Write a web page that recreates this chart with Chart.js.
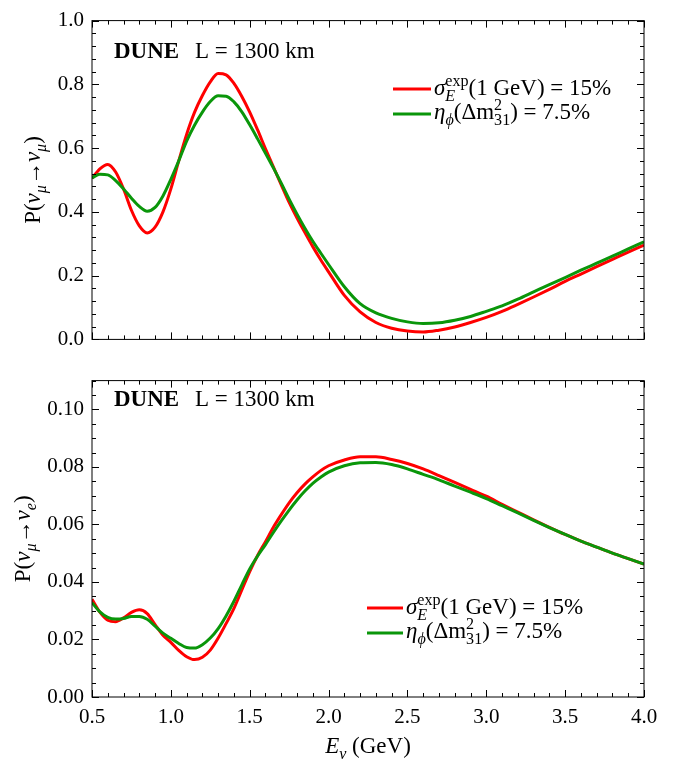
<!DOCTYPE html>
<html>
<head>
<meta charset="utf-8">
<script src="https://cdn.jsdelivr.net/npm/chart.js@4.4.1/dist/chart.umd.min.js"></script>
<style>
  body { margin: 0; background: #fff; }
  canvas { position: absolute; left: 0; }
</style>
</head>
<body>
<canvas id="graph-numu" width="673" height="360" style="top:0"></canvas>
<canvas id="graph-nue" width="673" height="400" style="top:360px"></canvas>
<script>
// neutrino energy (GeV)
const energy = [
  0.50, 0.55, 0.60, 0.65, 0.70, 0.75, 0.80, 0.85, 0.90, 0.95,
  1.00, 1.05, 1.10, 1.15, 1.20, 1.25, 1.30, 1.35, 1.40, 1.45,
  1.50, 1.55, 1.60, 1.65, 1.70, 1.75, 1.80, 1.85, 1.90, 1.95,
  2.00, 2.1, 2.2, 2.3, 2.4, 2.5, 2.6, 2.7, 2.8, 2.9,
  3.0, 3.1, 3.2, 3.3, 3.4, 3.5, 3.6, 3.7, 3.8, 3.9, 4.0
];

// P(numu -> numu)
const numuSigma = [
  0.505, 0.535, 0.549, 0.525, 0.472, 0.405, 0.356, 0.334, 0.352, 0.400,
  0.472, 0.560, 0.643, 0.712, 0.765, 0.808, 0.834, 0.830, 0.803, 0.762,
  0.713, 0.657, 0.598, 0.541, 0.485, 0.430, 0.381, 0.335, 0.291, 0.250,
  0.212, 0.138, 0.086, 0.053, 0.035, 0.026, 0.023, 0.029, 0.039, 0.053,
  0.069, 0.088, 0.110, 0.133, 0.157, 0.182, 0.205, 0.228, 0.251, 0.274, 0.296
];
const numuEta = [
  0.507, 0.518, 0.516, 0.498, 0.472, 0.443, 0.417, 0.402, 0.414, 0.450,
  0.502, 0.560, 0.622, 0.672, 0.713, 0.746, 0.764, 0.763, 0.745, 0.714,
  0.673, 0.629, 0.584, 0.538, 0.490, 0.440, 0.393, 0.349, 0.308, 0.271,
  0.235, 0.165, 0.112, 0.083, 0.066, 0.055, 0.050, 0.052, 0.060, 0.072,
  0.088, 0.105, 0.126, 0.149, 0.172, 0.194, 0.217, 0.239, 0.261, 0.284, 0.306
];

// P(numu -> nue)
const nueSigma = [
  0.0340, 0.0295, 0.0267, 0.0262, 0.0275, 0.0294, 0.0303, 0.0290, 0.0252, 0.0215,
  0.0190, 0.0162, 0.0140, 0.0130, 0.0138, 0.0163, 0.0205, 0.0255, 0.0308, 0.0372,
  0.0436, 0.0492, 0.0540, 0.0590, 0.0634, 0.0675, 0.0710, 0.0740, 0.0765, 0.0787,
  0.0804, 0.0824, 0.0835, 0.0835, 0.0826, 0.0812, 0.0793, 0.0770, 0.0746, 0.0722,
  0.0698, 0.0670, 0.0643, 0.0616, 0.0590, 0.0565, 0.0542, 0.0521, 0.0500, 0.0481, 0.0462
];
const nueEta = [
  0.0328, 0.0296, 0.0277, 0.0271, 0.0273, 0.0280, 0.0280, 0.0270, 0.0246, 0.0222,
  0.0204, 0.0186, 0.0172, 0.0170, 0.0182, 0.0205, 0.0238, 0.0282, 0.0333, 0.0390,
  0.0445, 0.0490, 0.0530, 0.0572, 0.0612, 0.0650, 0.0685, 0.0716, 0.0743, 0.0764,
  0.0782, 0.0804, 0.0814, 0.0815, 0.0808, 0.0793, 0.0774, 0.0755, 0.0733, 0.0712,
  0.0690, 0.0665, 0.0640, 0.0614, 0.0589, 0.0565, 0.0542, 0.0521, 0.0500, 0.0481, 0.0462
];

const RED = "#ff0000";
const GREEN = "#0a960a";
const FONT = '"Liberation Serif", "Times New Roman", serif';
const TXT = 23;   // labels, legend, axis titles
const TICK = 21;  // tick numbers

// rich text (sub/superscripts) drawn straight on the canvas
const legendSigma = [{ t: "σ", i: 1 }, { sub: "E", subI: 1, sup: "exp" }, { t: "(1 GeV) = 15%" }];
const legendEta = [{ t: "η", i: 1 }, { sub: "ϕ", subI: 1 }, { t: "(Δm" }, { sub: "31", sup: "2" }, { t: ") = 7.5%" }];
const titleNumu = [{ t: "P(" }, { t: "ν", i: 1 }, { sub: "μ", subI: 1 }, { t: "→" }, { t: "ν", i: 1 }, { sub: "μ", subI: 1 }, { t: ")" }];
const titleNue = [{ t: "P(" }, { t: "ν", i: 1 }, { sub: "μ", subI: 1 }, { t: "→" }, { t: "ν", i: 1 }, { sub: "e", subI: 1 }, { t: ")" }];
const titleE = [{ t: "E", i: 1 }, { sub: "ν", subI: 1 }, { t: " (GeV)" }];

function font(size, it, bold) {
  return (it ? "italic " : "") + (bold ? "bold " : "") + size + "px " + FONT;
}

function rich(ctx, runs, size, x0, y0, draw) {
  let x = x0;
  for (const r of runs) {
    if (r.sub !== undefined || r.sup !== undefined) {
      let w = 0;
      const s = size * 0.7;
      if (r.sup) {
        ctx.font = font(s, r.supI);
        if (draw) ctx.fillText(r.sup, x, y0 - size * 0.4);
        w = Math.max(w, ctx.measureText(r.sup).width);
      }
      if (r.sub) {
        ctx.font = font(s, r.subI);
        if (draw) ctx.fillText(r.sub, x, y0 + size * 0.28);
        w = Math.max(w, ctx.measureText(r.sub).width);
      }
      x += w;
    } else {
      ctx.font = font(size, r.i, r.b);
      if (draw) ctx.fillText(r.t, x, y0);
      x += ctx.measureText(r.t).width;
    }
  }
  return x - x0;
}

const framePlugin = {
  id: "frame",
  afterDatasetsDraw(chart, args, o) {
    const { ctx, chartArea: a, scales: { x, y } } = chart;
    ctx.save();
    ctx.strokeStyle = "#000";
    ctx.fillStyle = "#000";
    ctx.lineWidth = 1;
    ctx.strokeRect(a.left, a.top, a.right - a.left, a.bottom - a.top);

    // inward ticks on all four sides
    ctx.beginPath();
    for (let i = 5; i <= 40; i++) {
      const px = Math.round(x.getPixelForValue(i / 10)) + 0.5;
      const len = i % 5 === 0 ? 7 : 4;
      ctx.moveTo(px, a.bottom); ctx.lineTo(px, a.bottom - len);
      ctx.moveTo(px, a.top); ctx.lineTo(px, a.top + len);
    }
    for (let i = 0; i <= o.yCount; i++) {
      const py = Math.round(y.getPixelForValue(i * o.yMinor)) + 0.5;
      const len = i % o.yEvery === 0 ? 7 : 4;
      ctx.moveTo(a.left, py); ctx.lineTo(a.left + len, py);
      ctx.moveTo(a.right, py); ctx.lineTo(a.right - len, py);
    }
    ctx.stroke();

    // panel label
    ctx.textAlign = "left";
    ctx.textBaseline = "alphabetic";
    ctx.font = font(TXT, false, true);
    ctx.fillText("DUNE", 114, o.labelY);
    ctx.font = font(TXT);
    ctx.fillText("L = 1300 km", 195, o.labelY);

    // legend
    const sets = chart.data.datasets;
    [legendSigma, legendEta].forEach((runs, k) => {
      const ds = sets.find(d => d.key === k);
      ctx.strokeStyle = ds.borderColor;
      ctx.lineWidth = 3;
      ctx.beginPath();
      ctx.moveTo(o.legX1, o.legLineY[k]);
      ctx.lineTo(o.legX2, o.legLineY[k]);
      ctx.stroke();
      rich(ctx, runs, TXT, o.legX2 + 3, o.legTextY[k], true);
    });

    // y title, rotated
    ctx.save();
    ctx.translate(o.yTitleX, (a.top + a.bottom) / 2);
    ctx.rotate(-Math.PI / 2);
    const w = rich(ctx, o.yTitle, TXT, 0, 0, false);
    rich(ctx, o.yTitle, TXT, -w / 2, 0, true);
    ctx.restore();

    // x title
    if (o.xTitle) {
      const wx = rich(ctx, o.xTitle, TXT, 0, 0, false);
      rich(ctx, o.xTitle, TXT, (a.left + a.right) / 2 - wx / 2, o.xTitleY, true);
    }
    ctx.restore();
  }
};

function panel(id, sigma, eta, yMax, yStep, digits, showX, pad, xHeight, extra) {
  return new Chart(document.getElementById(id).getContext("2d"), {
    type: "line",
    data: {
      datasets: [{
        key: 1,
        label: "eta_phi(dm31^2) = 7.5%",
        data: energy.map((e, i) => ({ x: e, y: eta[i] })),
        borderColor: GREEN,
        order: 0
      }, {
        key: 0,
        label: "sigma_E^exp(1 GeV) = 15%",
        data: energy.map((e, i) => ({ x: e, y: sigma[i] })),
        borderColor: RED,
        order: 1
      }]
    },
    options: {
      responsive: false,
      animation: false,
      devicePixelRatio: 1,
      layout: { padding: pad },
      elements: {
        point: { radius: 0 },
        line: { borderWidth: 3, cubicInterpolationMode: "monotone", fill: false }
      },
      scales: {
        x: {
          type: "linear",
          min: 0.5,
          max: 4.0,
          grid: { display: false, drawTicks: false },
          border: { display: false },
          ticks: {
            display: showX,
            stepSize: 0.5,
            padding: 8,
            color: "#000",
            font: { family: FONT, size: TICK },
            maxRotation: 0,
            callback: v => v.toFixed(1)
          },
          afterFit: s => { s.height = xHeight; }
        },
        y: {
          min: 0,
          max: yMax,
          grid: { display: false, drawTicks: false },
          border: { display: false },
          ticks: {
            stepSize: yStep,
            includeBounds: false,
            padding: 8,
            color: "#000",
            font: { family: FONT, size: TICK },
            callback: v => v.toFixed(digits)
          },
          afterFit: s => { s.width = 92; }
        }
      },
      plugins: {
        legend: { display: false },
        tooltip: { enabled: false },
        frame: extra
      }
    },
    plugins: [framePlugin]
  });
}

panel("graph-numu", numuSigma, numuEta, 1.0, 0.2, 1, false,
  { left: 0, top: 19, right: 29, bottom: 10 }, 0,
  { yMinor: 0.04, yEvery: 5, yCount: 25, labelY: 58, yTitle: titleNumu, yTitleX: 40,
    legX1: 393, legX2: 431, legLineY: [89, 114], legTextY: [95, 119] });

panel("graph-nue", nueSigma, nueEta, 0.11, 0.02, 2, true,
  { left: 0, top: 6, right: 29, bottom: 0 }, 63,
  { yMinor: 0.005, yEvery: 4, yCount: 22, labelY: 46, yTitle: titleNue, yTitleX: 30,
    legX1: 367, legX2: 403, legLineY: [248, 273], legTextY: [254, 278],
    xTitle: titleE, xTitleY: 393 });
</script>
</body>
</html>
